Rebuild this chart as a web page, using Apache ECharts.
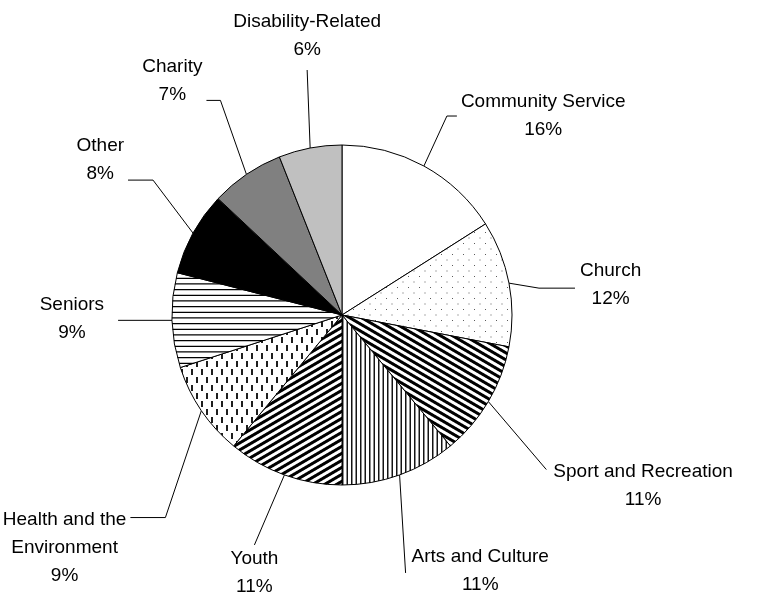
<!DOCTYPE html>
<html>
<head>
<meta charset="utf-8">
<script src="https://cdn.jsdelivr.net/npm/echarts@6/dist/echarts.min.js"></script>
<style>
  html, body { margin: 0; padding: 0; background: #ffffff; }
  #chart { width: 764px; height: 603px; }
</style>
</head>
<body>
<div id="chart"></div>
<script>
// Volunteer hours by type of organisation (% of total)
const categories = [
  'Community Service', 'Church', 'Sport and Recreation', 'Arts and Culture', 'Youth',
  'Health and the\nEnvironment', 'Seniors', 'Other', 'Charity', 'Disability-Related'
];
const shares = [16, 12, 11, 11, 11, 9, 9, 8, 7, 6];

// ---- monochrome fill patterns -------------------------------------------
// Each tile is rasterised with 4x4 supersampling so stripes stay smooth.
function tile(w, h, inkFn, ink) {
  const c = document.createElement('canvas');
  c.width = w; c.height = h;
  const g = c.getContext('2d');
  const img = g.createImageData(w, h);
  const S = 4;
  const ir = ink[0], ig = ink[1], ib = ink[2];
  for (let y = 0; y < h; y++) {
    for (let x = 0; x < w; x++) {
      let cov = 0;
      for (let sy = 0; sy < S; sy++) {
        for (let sx = 0; sx < S; sx++) {
          if (inkFn(x + (sx + 0.5) / S, y + (sy + 0.5) / S, w, h)) cov++;
        }
      }
      cov /= S * S;
      const i = (y * w + x) * 4;
      img.data[i] = Math.round(255 + (ir - 255) * cov);
      img.data[i + 1] = Math.round(255 + (ig - 255) * cov);
      img.data[i + 2] = Math.round(255 + (ib - 255) * cov);
      img.data[i + 3] = 255;
    }
  }
  g.putImageData(img, 0, 0);
  return { image: c, repeat: 'repeat' };
}
const mod = (a, n) => ((a % n) + n) % n;

const fillDots = tile(11, 11, (x, y) =>
  (x >= 1 && x < 2 && y >= 1 && y < 2) || (x >= 6.5 && x < 7.5 && y >= 6.5 && y < 7.5), [90, 90, 90]);
const fillDown = tile(12, 7, (x, y) => mod(y * 12 - x * 7, 84) < 42, [0, 0, 0]);
const fillUp = tile(12, 7, (x, y) => mod(y * 12 + x * 7, 84) < 42, [0, 0, 0]);
const fillVert = tile(9, 1, (x) => (x >= 0 && x < 1.5) || (x >= 4.5 && x < 6), [20, 20, 20]);
const fillDash = tile(10, 16, (x, y) =>
  (x >= 1 && x < 3 && y >= 1 && y < 7) || (x >= 6 && x < 8 && y >= 9 && y < 15), [30, 30, 30]);
const fillHoriz = tile(1, 17, (x, y) =>
  (y >= 0 && y < 1.3) || (y >= 5.7 && y < 7) || (y >= 11.3 && y < 12.6), [0, 0, 0]);

const fills = [
  '#ffffff', fillDots, fillDown, fillVert, fillUp,
  fillDash, fillHoriz, '#000000', '#808080', '#c0c0c0'
];

// ---- leader-line geometry per slice ---------------------------------------
// leg: offset of the line end from the slice's rim point; tail: horizontal run;
// text: where the label sits relative to the line end.
const leaders = [
  { leg: [23, -50], tail: 10,  align: 'left',   vAlign: 'middle', tx: 4,   ty: 0 },
  { leg: [30, 5],   tail: 36,  align: 'left',   vAlign: 'middle', tx: 5,   ty: -3 },
  { leg: [58, 68],  tail: 0,   align: 'left',   vAlign: 'top',    tx: 7,   ty: -12 },
  { leg: [6, 98],   tail: 0,   align: 'left',   vAlign: 'middle', tx: 6,   ty: -2 },
  { leg: [-30, 70], tail: 0,   align: 'center', vAlign: 'top',    tx: 0,   ty: 0 },
  { leg: [-36, 107],tail: -35, align: 'right',  vAlign: 'top',    tx: -4,  ty: -12 },
  { leg: [-54, 0],  tail: 0,   align: 'right',  vAlign: 'middle', tx: -14, ty: -2 },
  { leg: [-40, -53],tail: -25, align: 'right',  vAlign: 'bottom', tx: -4,  ty: 8 },
  { leg: [-26, -74],tail: -14, align: 'right',  vAlign: 'bottom', tx: -4,  ty: 8 },
  { leg: [-3, -78], tail: 0,   align: 'center', vAlign: 'bottom', tx: 0,   ty: -6 }
];

const FONT = '"Liberation Sans", Arial, sans-serif';
const FS = 19;
const LH = 28;

const chart = echarts.init(document.getElementById('chart'), null, { renderer: 'canvas' });
chart.setOption({
  backgroundColor: '#ffffff',
  animation: false,
  series: [{
    type: 'pie',
    center: [342, 315],
    radius: 170,
    startAngle: 90,
    clockwise: true,
    avoidLabelOverlap: false,
    silent: true,
    itemStyle: { borderColor: '#000000', borderWidth: 1 },
    label: {
      show: true,
      color: '#000000',
      fontFamily: FONT,
      fontSize: FS,
      lineHeight: LH,
      formatter: (p) => p.name.split('\n').map(s => '{c|' + s + '}').join('\n') + '\n{c|' + p.value + '%}',
      rich: { c: { align: 'center', fontFamily: FONT, fontSize: FS, lineHeight: LH, color: '#000000' } }
    },
    labelLine: { show: true, length: 20, length2: 10, smooth: false, lineStyle: { color: '#000000', width: 1 } },
    labelLayout: (p) => {
      const d = leaders[p.dataIndex];
      const rim = p.labelLinePoints[0];
      const bend = [rim[0] + d.leg[0], rim[1] + d.leg[1]];
      const end = [bend[0] + d.tail, bend[1]];
      return {
        x: end[0] + d.tx,
        y: end[1] + d.ty,
        align: d.align,
        verticalAlign: d.vAlign,
        labelLinePoints: [rim, bend, end]
      };
    },
    emphasis: { disabled: true },
    data: categories.map((name, i) => ({ name, value: shares[i], itemStyle: { color: fills[i] } }))
  }]
});
</script>
</body>
</html>
